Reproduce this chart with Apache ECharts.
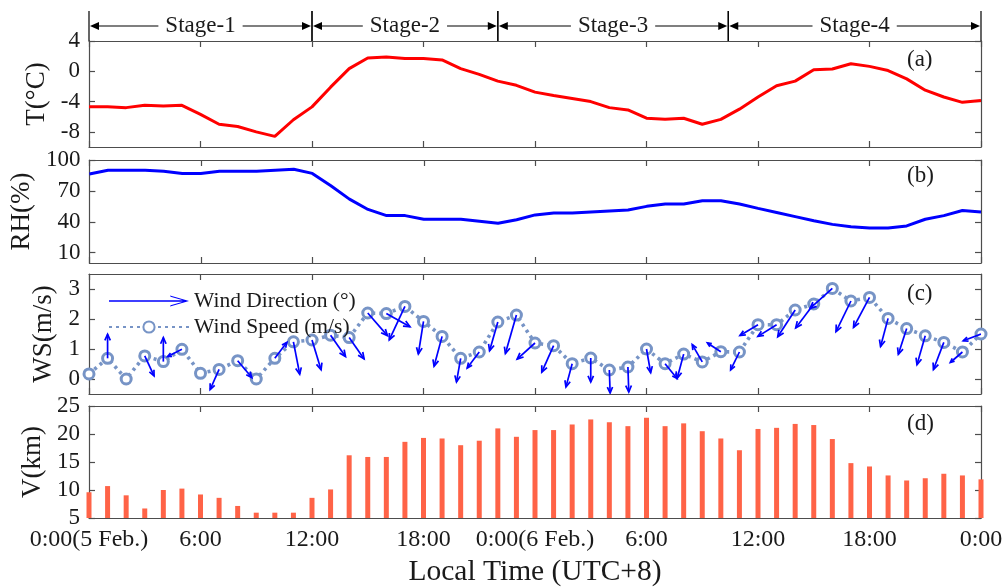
<!DOCTYPE html>
<html>
<head>
<meta charset="utf-8">
<script src="https://cdn.jsdelivr.net/npm/echarts@6/dist/echarts.min.js"></script>
<style>
html,body{margin:0;padding:0;background:#fff;}
#chart{width:1008px;height:588px;}
</style>
</head>
<body>
<div id="chart"></div>
<script>
// ---------------- data ----------------
const hours = [0,1,2,3,4,5,6,7,8,9,10,11,12,13,14,15,16,17,18,19,20,21,22,23,24,25,26,27,28,29,30,31,32,33,34,35,36,37,38,39,40,41,42,43,44,45,46,47,48];
const xTickValues = [0,6,12,18,24,30,36,42,48];
const xTickLabels = ['0:00(5 Feb.)','6:00','12:00','18:00','0:00(6 Feb.)','6:00','12:00','18:00','0:00'];

const temperature = [-4.7,-4.7,-4.8,-4.5,-4.6,-4.5,-5.7,-7.0,-7.3,-8.0,-8.6,-6.4,-4.7,-2.1,0.35,1.75,1.9,1.7,1.7,1.5,0.35,-0.4,-1.3,-1.85,-2.75,-3.2,-3.6,-4.0,-4.8,-5.1,-6.2,-6.35,-6.2,-7.0,-6.35,-5.0,-3.4,-1.9,-1.3,0.2,0.3,1.0,0.65,0.1,-1.0,-2.5,-3.4,-4.1,-3.85];
const relHumidity = [86.5,90,90,90,89,87,87,89,89,89,90,91,87,75,62,52,46,46,42.5,42.5,42.5,40.5,38.5,42,46.7,48.5,48.5,49.5,50.5,51.5,55,57.3,57.3,60.5,60.5,57.3,53,49,45,41,37.5,35.3,34,34,36,42.5,46,51,49.5];
const windSpeed = [0.17,0.69,0,0.77,0.58,0.99,0.19,0.32,0.61,0,0.69,1.24,1.3,1.46,1.38,2.2,2.18,2.42,1.92,1.42,0.69,0.9,1.9,2.13,1.2,1.11,0.51,0.7,0.3,0.4,1.0,0.51,0.83,0.57,0.91,0.9,1.81,1.81,2.3,2.5,3.02,2.6,2.72,2.02,1.68,1.44,1.22,0.9,1.5];
// direction the wind blows from (deg, clockwise from north)
const windDirection = [0,180,0,335,180,63,0,24,320,0,217,349,343,325,325,319,299,25,9,15,10,37,16,16,48,24,15,0,358,358,350,321,15,150,123,26,59,58,33,37,48,26,28,15,18,16,21,49,69];
// quiver arrow magnitude (arbitrary quiver units)
const windArrowMag = [0,2.4,0,2.2,2.4,1.6,0,2.2,2.2,0,2.0,3.3,3.1,2.6,2.6,3.0,2.7,3.7,3.3,3.1,2.4,2.0,3.0,4.0,2.4,2.9,2.4,2.4,2.3,2.5,2.4,1.9,2.5,2.0,1.6,2.0,2.1,2.2,3.2,3.0,3.0,3.4,3.4,2.9,2.7,3.0,2.9,1.6,1.9];
const visibility = [9.6,10.7,9.05,6.7,10.0,10.25,9.2,8.6,7.15,5.95,5.95,5.95,8.6,10.1,16.2,15.9,15.9,18.6,19.3,19.2,18.0,18.8,21.0,19.5,20.7,20.7,21.7,22.6,22.1,21.4,22.9,21.4,21.9,20.5,19.2,17.1,20.9,21.1,21.8,21.6,19.1,14.8,14.2,12.6,11.7,12.1,12.9,12.6,11.9];

const stageNames = ['Stage-1','Stage-2','Stage-3','Stage-4'];
const stageStart = [0,12,22,34.4];
const stageEnd = [12,22,34.4,48];

const tTicks = [-8,-4,0,4];
const rhTicks = [10,40,70,100];
const wsTicks = [0,1,2,3];
const panelLabels = ['(a)','(b)','(c)','(d)'];

// ---------------- styles ----------------
const FONT = 'Liberation Serif';
const AXIS_COLOR = '#4d4d4d';
const TEXT_COLOR = '#1a1a1a';
const ARROW_PX = 10;
const GRID_LEFT = 89, GRID_W = 892;
const grids = [
  {left:GRID_LEFT, width:GRID_W, top:41,  height:106},
  {left:GRID_LEFT, width:GRID_W, top:160, height:103},
  {left:GRID_LEFT, width:GRID_W, top:274, height:120},
  {left:GRID_LEFT, width:GRID_W, top:406, height:112},
  {left:GRID_LEFT, width:GRID_W, top:11,  height:30}
];

function pairs(ys){ return hours.map((h,i)=>[h, ys[i]]); }

function xAxes(){
  const arr = [];
  for (let g=0; g<4; g++){
    arr.push({
      type:'value', gridIndex:g, min:0, max:48, interval:6, position:'bottom',
      axisLine:{show:true, onZero:false, lineStyle:{color:AXIS_COLOR, width:1.2}},
      axisTick:{show:true, inside:true, length:6, lineStyle:{color:AXIS_COLOR, width:1.2}},
      splitLine:{show:false},
      axisLabel:{show:g===3, margin:10, fontFamily:FONT, fontSize:24, color:TEXT_COLOR,
        formatter:v=>{const i=xTickValues.indexOf(v); return i>=0?xTickLabels[i]:'';}},
      name: g===3 ? 'Local Time (UTC+8)' : '',
      nameLocation:'middle', nameGap:39,
      nameTextStyle:{fontFamily:FONT, fontSize:29.5, color:TEXT_COLOR}
    });
    arr.push({
      type:'value', gridIndex:g, min:0, max:48, interval:6, position:'top',
      axisLine:{show:true, onZero:false, lineStyle:{color:AXIS_COLOR, width:1.2}},
      axisTick:{show:true, inside:true, length:6, lineStyle:{color:AXIS_COLOR, width:1.2}},
      splitLine:{show:false}, axisLabel:{show:false}
    });
  }
  arr.push({type:'value', gridIndex:4, min:0, max:48, show:false});
  return arr;
}

function yPair(g, name, min, max, interval, ticks, gap){
  const common = {
    type:'value', gridIndex:g, min:min, max:max,
    axisLine:{show:true, onZero:false, lineStyle:{color:AXIS_COLOR, width:1.2}},
    splitLine:{show:false}
  };
  const left = Object.assign({}, common, {
    position:'left',
    axisTick:{show:true, inside:true, length:6, lineStyle:{color:AXIS_COLOR, width:1.2}},
    axisLabel:{show:true, margin:9, fontFamily:FONT, fontSize:23, color:TEXT_COLOR},
    name:name, nameLocation:'middle', nameGap:gap,
    nameTextStyle:{fontFamily:FONT, fontSize:27, color:TEXT_COLOR}
  });
  const right = Object.assign({}, common, {
    position:'right',
    axisTick:{show:true, inside:true, length:6, lineStyle:{color:AXIS_COLOR, width:1.2}},
    axisLabel:{show:false}
  });
  if (ticks){
    left.axisTick.customValues = ticks; left.axisLabel.customValues = ticks;
    right.axisTick.customValues = ticks;
  } else {
    left.interval = interval; right.interval = interval;
  }
  return [left, right];
}

const yAxes = [].concat(
  yPair(0,'T(°C)',-10,4,null,tTicks,33),
  yPair(1,'RH(%)',0,100,null,rhTicks,50),
  yPair(2,'WS(m/s)',-0.5,3.5,null,wsTicks,27),
  yPair(3,'V(km)',5,25,5,null,42),
  [{type:'value', gridIndex:4, min:0, max:1, show:false}]
);

function arrowItem(params, api){
  const mag = api.value(3);
  if (!mag) return {type:'group', children:[]};
  const p = api.coord([api.value(0), api.value(1)]);
  const rad = api.value(2) * Math.PI / 180;
  const L = mag * ARROW_PX;
  const dx = -Math.sin(rad) * L, dy = Math.cos(rad) * L;
  const tip = [p[0]+dx, p[1]+dy];
  const ang = Math.atan2(dy, dx);
  const h = Math.min(7, Math.max(4, L*0.28));
  const a1 = ang + Math.PI - 0.42, a2 = ang + Math.PI + 0.42;
  const st = {stroke:'#0000ff', lineWidth:1.7, fill:null};
  return {type:'group', children:[
    {type:'line', shape:{x1:p[0], y1:p[1], x2:tip[0], y2:tip[1]}, style:st},
    {type:'polyline', shape:{points:[[tip[0]+h*Math.cos(a1), tip[1]+h*Math.sin(a1)], tip, [tip[0]+h*Math.cos(a2), tip[1]+h*Math.sin(a2)]]}, style:st}
  ]};
}

function stageItem(params, api){
  const s = api.value(0), e = api.value(1);
  const pTop = api.coord([s, 1]), pBot = api.coord([s, 0]);
  const qTop = api.coord([e, 1]);
  const mid = api.coord([s, 0.5]);
  const qMid = api.coord([e, 0.5]);
  const y = mid[1];
  const ah = 9, aw = 4;
  const black = {stroke:'#000', lineWidth:1.2};
  return {type:'group', children:[
    {type:'line', shape:{x1:pTop[0], y1:pTop[1], x2:pBot[0], y2:pBot[1]}, style:black},
    {type:'line', shape:{x1:qTop[0], y1:qTop[1], x2:qTop[0], y2:pBot[1]}, style:black},
    {type:'line', shape:{x1:mid[0]+ah, y1:y, x2:qMid[0]-ah, y2:y}, style:black},
    {type:'polygon', shape:{points:[[mid[0]+1,y],[mid[0]+1+ah,y-aw],[mid[0]+1+ah,y+aw]]}, style:{fill:'#000'}},
    {type:'polygon', shape:{points:[[qMid[0]-1,y],[qMid[0]-1-ah,y-aw],[qMid[0]-1-ah,y+aw]]}, style:{fill:'#000'}},
    {type:'text', x:(mid[0]+qMid[0])/2, y:y, style:{text:stageNames[params.dataIndex], x:0, y:0, align:'center', verticalAlign:'middle',
      fontFamily:FONT, fontSize:23, fill:TEXT_COLOR, backgroundColor:'#fff', padding:[0,7]}}
  ]};
}

const wsColor = '#7794c6';
const arrowLegendIcon = 'path://M0,6.3 L77,6.3 L77,7.7 L0,7.7 Z M61,1.5 L80,7 L61,12.5 L61.6,11.2 L76.5,7 L61.6,2.8 Z';

const option = {
  animation:false,
  backgroundColor:'#fff',
  textStyle:{fontFamily:FONT},
  grid: grids,
  xAxis: xAxes(),
  yAxis: yAxes,
  legend:{
    orient:'vertical', left:103, top:285, itemWidth:80, itemHeight:14, itemGap:4,
    textStyle:{fontFamily:FONT, fontSize:21.5, color:TEXT_COLOR},
    data:[
      {name:'Wind Direction (°)', icon:arrowLegendIcon, itemStyle:{color:'#0000ff'}},
      {name:'Wind Speed (m/s)'}
    ]
  },
  graphic: panelLabels.map((t,i)=>({
    type:'text', left:907, top:[48,164,282,412][i],
    style:{text:t, fontFamily:FONT, fontSize:23, fill:TEXT_COLOR}
  })),
  series:[
    {type:'line', name:'T', xAxisIndex:0, yAxisIndex:0, data:pairs(temperature), showSymbol:false,
      lineStyle:{color:'#ff0000', width:3}, itemStyle:{color:'#ff0000'}},
    {type:'line', name:'RH', xAxisIndex:2, yAxisIndex:2, data:pairs(relHumidity), showSymbol:false,
      lineStyle:{color:'#0000ff', width:3}, itemStyle:{color:'#0000ff'}},
    {type:'line', name:'Wind Speed (m/s)', xAxisIndex:4, yAxisIndex:4, data:pairs(windSpeed),
      symbol:'circle', symbolSize:10, showSymbol:true,
      lineStyle:{color:wsColor, width:3.6, type:[3,4]},
      itemStyle:{color:'#fff', borderColor:wsColor, borderWidth:3}, z:2},
    {type:'custom', name:'Wind Direction (°)', xAxisIndex:4, yAxisIndex:4,
      data: hours.map((h,i)=>[h, windSpeed[i], windDirection[i], windArrowMag[i]]),
      renderItem: arrowItem, itemStyle:{color:'#0000ff'}, z:3, clip:true},
    {type:'bar', name:'V', xAxisIndex:6, yAxisIndex:6, data:pairs(visibility), barWidth:5,
      itemStyle:{color:'#ff6347'}},
    {type:'custom', name:'stages', xAxisIndex:8, yAxisIndex:8,
      data: stageStart.map((s,i)=>[s, stageEnd[i]]), renderItem: stageItem, silent:true}
  ]
};

const chart = echarts.init(document.getElementById('chart'), null, {renderer:'canvas'});
chart.setOption(option);
</script>
</body>
</html>
